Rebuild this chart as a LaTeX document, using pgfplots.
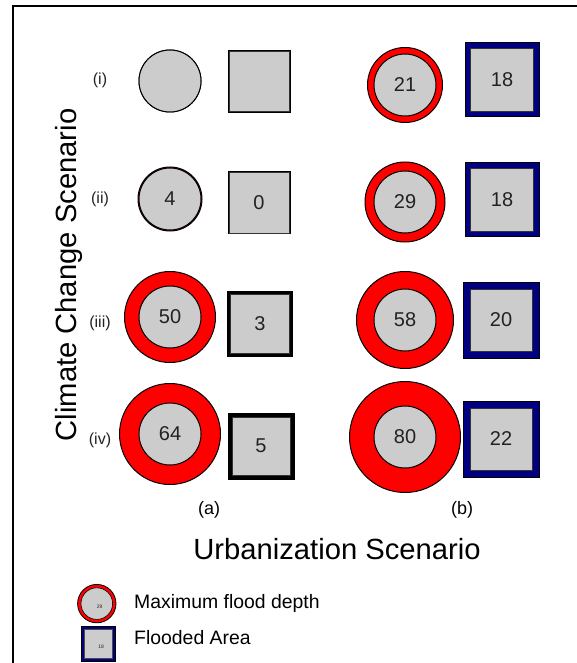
\documentclass[border=0pt]{standalone}
\usepackage{fontspec}
\setmainfont{Liberation Sans}
\usepackage{pgfplots}
\pgfplotsset{compat=1.18}
\usepackage{pgfplotstable}

\definecolor{ringred}{HTML}{FF0000}
\definecolor{boxnavy}{HTML}{000080}
\definecolor{cellgrey}{HTML}{CCCCCC}
\definecolor{numtext}{HTML}{222222}

% maximum flood depth: centre (px), outer radius (px), label
\pgfplotstableread{
x   y   r     lbl
170 81  31    {}
170 199 32    4
170 317 45.5  50
170 434 50.5  64
405 85  37.5  21
405 202 40    29
405 320 48.5  58
405 437 55.5  80
}\depthtab

% flooded area, scenario (a): centre, outer side, inner side (px)
\pgfplotstableread{
x   y   out  in  lbl
259 82  62   60  {}
259 203 62   60  0
260 324 65   59  3
261 446 66   58  5
}\areaA

% flooded area, scenario (b)
\pgfplotstableread{
x   y   out  in  lbl
502 80  74   63  18
502 200 74   63  18
501 320 76   62  20
501 439 76   62  22
}\areaB

% #1 mark, #2 size expression (pt), #3 draw colour, #4 fill colour
\pgfplotsset{
  sized mark/.style n args={4}{
    scatter, only marks, mark=#1, point meta=y, forget plot,
    line width=0.5pt,
    visualization depends on={#2 \as \msz},
    scatter/@pre marker code/.code={\scope[mark size=\msz, draw=#3, fill=#4]},
    scatter/@post marker code/.code={\endscope},
  },
  numbers/.style={
    only marks, mark=none, forget plot,
    point meta=explicit symbolic, nodes near coords,
    every node near coord/.append style={anchor=center, inner sep=0pt,
      font=\fontsize{10}{10}\selectfont, text=numtext},
  },
}

\begin{document}
\begin{tikzpicture}
\begin{axis}[
    name=ax,
    scale only axis,
    width=288.5pt, height=331.5pt,
    xmin=0, xmax=577, ymin=0, ymax=663,
    y dir=reverse,
    hide axis, clip=false,
    legend style={at={(axis cs:77,584)}, anchor=north west,
      draw=none, fill=none, inner sep=0pt, outer sep=0pt,
      row sep=1.5pt, column sep=8.8pt,
      nodes={inner sep=0pt, font=\fontsize{9.7}{11}\selectfont,
        text height=0.73em, text depth=0.21em}},
    legend cell align=left,
]
% frame
\draw[line width=1pt] (axis cs:12,6) -- (axis cs:577,6);
\draw[line width=1pt] (axis cs:13,6) -- (axis cs:13,663);

% circles
\addplot[sized mark={*}{\thisrow{r}/2}{black}{ringred}]
  table[x=x, y=y] {\depthtab};
\addplot[only marks, mark=*, mark size=15.5pt, forget plot, line width=0.5pt,
  mark options={draw=black, fill=cellgrey}]
  table[x=x, y=y] {\depthtab};
\addplot[numbers] table[x=x, y=y, meta=lbl] {\depthtab};

% squares (a)
\addplot[sized mark={square*}{\thisrow{out}/4}{black}{black}]
  table[x=x, y=y] {\areaA};
\addplot[sized mark={square*}{\thisrow{in}/4}{black!80}{cellgrey}]
  table[x=x, y=y] {\areaA};
\addplot[numbers] table[x=x, y=y, meta=lbl] {\areaA};

% squares (b)
\addplot[sized mark={square*}{\thisrow{out}/4}{black}{boxnavy}]
  table[x=x, y=y] {\areaB};
\addplot[sized mark={square*}{\thisrow{in}/4}{black!80}{cellgrey}]
  table[x=x, y=y] {\areaB};
\addplot[numbers] table[x=x, y=y, meta=lbl] {\areaB};

% row and column names
\begin{scope}[every node/.style={font=\fontsize{8}{8}\selectfont, text=numtext}]
\node at (axis cs:100,80)  {(i)};
\node at (axis cs:100,199) {(ii)};
\node at (axis cs:100,323) {(iii)};
\node at (axis cs:100,440) {(iv)};
\end{scope}
\node[font=\fontsize{9}{9}\selectfont] at (axis cs:209,510) {(a)};
\node[font=\fontsize{9}{9}\selectfont] at (axis cs:462,510) {(b)};

\node[font=\fontsize{14.6}{15}\selectfont, anchor=base] at (axis cs:337,559) {Urbanization Scenario};
\node[font=\fontsize{14.6}{15}\selectfont, anchor=base, rotate=90] at (axis cs:76,275) {Climate Change Scenario};

% legend
\addlegendimage{legend image code/.code={
  \draw[draw=black, fill=ringred, line width=0.4pt] (9.7pt,0pt) circle[radius=9.6pt];
  \draw[draw=black, fill=cellgrey, line width=0.3pt] (9.7pt,0pt) circle[radius=7.9pt];
  \node[font=\fontsize{2.5}{3}\selectfont, text=numtext, inner sep=0pt] at (9.7pt,0pt) {29};
}}
\addlegendentry{Maximum flood depth}
\addlegendimage{legend image code/.code={
  \path (0pt,0pt) (19.4pt,0pt);
  \draw[draw=black, fill=boxnavy, line width=0.3pt] (2pt,-8.6pt) rectangle (19pt,8.6pt);
  \draw[draw=black!70, fill=cellgrey, line width=0.3pt] (3.5pt,-7.1pt) rectangle (17.5pt,7.1pt);
  \node[font=\fontsize{2.5}{3}\selectfont, text=numtext, inner sep=0pt] at (10.5pt,0pt) {18};
}}
\addlegendentry[yshift=2pt]{Flooded Area}
\end{axis}
\pgfresetboundingbox
\path[use as bounding box] (ax.south west) rectangle (ax.north east);
\end{tikzpicture}
\end{document}
